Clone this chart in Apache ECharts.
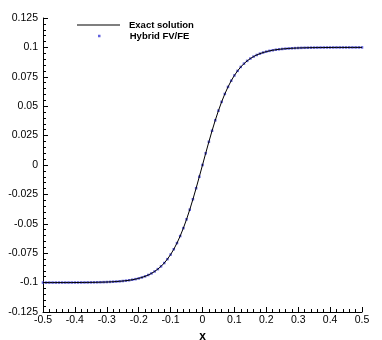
<!DOCTYPE html>
<html>
<head>
<meta charset="utf-8">
<script src="https://cdn.jsdelivr.net/npm/echarts@6/dist/echarts.min.js"></script>
<style>
  html, body { margin: 0; padding: 0; background: #fff; }
  #chart { width: 382px; height: 340px; }
</style>
</head>
<body>
<div id="chart"></div>
<script>
// x positions of the samples
const xValues = [
  -0.50, -0.49, -0.48, -0.47, -0.46, -0.45, -0.44, -0.43, -0.42, -0.41,
  -0.40, -0.39, -0.38, -0.37, -0.36, -0.35, -0.34, -0.33, -0.32, -0.31,
  -0.30, -0.29, -0.28, -0.27, -0.26, -0.25, -0.24, -0.23, -0.22, -0.21,
  -0.20, -0.19, -0.18, -0.17, -0.16, -0.15, -0.14, -0.13, -0.12, -0.11,
  -0.10, -0.09, -0.08, -0.07, -0.06, -0.05, -0.04, -0.03, -0.02, -0.01,
  0.00,
  0.01, 0.02, 0.03, 0.04, 0.05, 0.06, 0.07, 0.08, 0.09, 0.10,
  0.11, 0.12, 0.13, 0.14, 0.15, 0.16, 0.17, 0.18, 0.19, 0.20,
  0.21, 0.22, 0.23, 0.24, 0.25, 0.26, 0.27, 0.28, 0.29, 0.30,
  0.31, 0.32, 0.33, 0.34, 0.35, 0.36, 0.37, 0.38, 0.39, 0.40,
  0.41, 0.42, 0.43, 0.44, 0.45, 0.46, 0.47, 0.48, 0.49, 0.50
]

// exact solution u2 (estimated from the curve)
const exactValues = [
  -0.09999, -0.09999, -0.09998, -0.09998, -0.09998, -0.09997, -0.09997, -0.09996, -0.09996, -0.09995,
  -0.09993, -0.09992, -0.09990, -0.09988, -0.09985, -0.09982, -0.09978, -0.09973, -0.09967, -0.09960,
  -0.09951, -0.09940, -0.09926, -0.09910, -0.09890, -0.09866, -0.09837, -0.09801, -0.09757, -0.09705,
  -0.09640, -0.09562, -0.09468, -0.09354, -0.09217, -0.09051, -0.08854, -0.08617, -0.08337, -0.08005,
  -0.07616, -0.07163, -0.06640, -0.06044, -0.05370, -0.04621, -0.03800, -0.02913, -0.01974, -0.00997,
  0.00000,
  0.00997, 0.01974, 0.02913, 0.03800, 0.04621, 0.05370, 0.06044, 0.06640, 0.07163, 0.07616,
  0.08005, 0.08337, 0.08617, 0.08854, 0.09051, 0.09217, 0.09354, 0.09468, 0.09562, 0.09640,
  0.09705, 0.09757, 0.09801, 0.09837, 0.09866, 0.09890, 0.09910, 0.09926, 0.09940, 0.09951,
  0.09960, 0.09967, 0.09973, 0.09978, 0.09982, 0.09985, 0.09988, 0.09990, 0.09992, 0.09993,
  0.09995, 0.09996, 0.09996, 0.09997, 0.09997, 0.09998, 0.09998, 0.09998, 0.09999, 0.09999
]

// hybrid FV/FE points sit on top of the exact curve
const hybridValues = [
  -0.09999, -0.09999, -0.09998, -0.09998, -0.09998, -0.09997, -0.09997, -0.09996, -0.09996, -0.09995,
  -0.09993, -0.09992, -0.09990, -0.09988, -0.09985, -0.09982, -0.09978, -0.09973, -0.09967, -0.09960,
  -0.09951, -0.09940, -0.09926, -0.09910, -0.09890, -0.09866, -0.09837, -0.09801, -0.09757, -0.09705,
  -0.09640, -0.09562, -0.09468, -0.09354, -0.09217, -0.09051, -0.08854, -0.08617, -0.08337, -0.08005,
  -0.07616, -0.07163, -0.06640, -0.06044, -0.05370, -0.04621, -0.03800, -0.02913, -0.01974, -0.00997,
  0.00000,
  0.00997, 0.01974, 0.02913, 0.03800, 0.04621, 0.05370, 0.06044, 0.06640, 0.07163, 0.07616,
  0.08005, 0.08337, 0.08617, 0.08854, 0.09051, 0.09217, 0.09354, 0.09468, 0.09562, 0.09640,
  0.09705, 0.09757, 0.09801, 0.09837, 0.09866, 0.09890, 0.09910, 0.09926, 0.09940, 0.09951,
  0.09960, 0.09967, 0.09973, 0.09978, 0.09982, 0.09985, 0.09988, 0.09990, 0.09992, 0.09993,
  0.09995, 0.09996, 0.09996, 0.09997, 0.09997, 0.09998, 0.09998, 0.09998, 0.09999, 0.09999
]

const font = 'Liberation Sans, Arial, Helvetica, sans-serif'
const chart = echarts.init(document.getElementById('chart'))

const axisCommon = {
  axisLine: { onZero: false, lineStyle: { color: '#000', width: 1 } },
  axisTick: { inside: true, length: 5, lineStyle: { color: '#000' } },
  minorTick: { show: true, splitNumber: 5, length: 3, lineStyle: { color: '#000' } },
  splitLine: { show: false },
  axisLabel: { color: '#000', fontFamily: font, fontSize: 10.5 }
}

const legendText = { color: '#000', fontFamily: font, fontSize: 9.5, fontWeight: 'bold', padding: [0, 0, 0, 4] }

chart.setOption({
  animation: false,
  backgroundColor: '#fff',
  grid: { left: 43, right: 20, top: 18, bottom: 28, outerBoundsMode: 'none', containLabel: false },
  legend: [
    {
      data: [{ name: 'Exact solution', icon: 'path://M0,0H43V1H0Z', itemStyle: { color: '#000' } }],
      left: 77, top: 20, orient: 'vertical', padding: 0,
      itemWidth: 43, itemHeight: 1, symbolKeepAspect: false,
      textStyle: legendText
    },
    {
      data: [{ name: 'Hybrid FV/FE', icon: 'path://M0,0H1V1H0Z', itemStyle: { color: '#3a3ad6' } }],
      left: 98, top: 31, orient: 'vertical', padding: 0,
      itemWidth: 43, itemHeight: 2.5, symbolKeepAspect: true,
      textStyle: legendText
    }
  ],
  xAxis: {
    ...axisCommon,
    type: 'value', min: -0.5, max: 0.5, interval: 0.1,
    name: 'x', nameLocation: 'middle', nameGap: 13,
    nameTextStyle: { color: '#000', fontFamily: font, fontSize: 12, fontWeight: 'bold' },
    axisLabel: { ...axisCommon.axisLabel, margin: 3 }
  },
  yAxis: {
    ...axisCommon,
    type: 'value', min: -0.125, max: 0.125, interval: 0.025,
    name: 'u{s|2}', nameLocation: 'middle', nameGap: 33, nameRotate: 90,
    nameTextStyle: {
      color: '#000', fontFamily: font, fontSize: 12, fontWeight: 'bold',
      rich: { s: { fontSize: 8, fontWeight: 'bold', fontFamily: font, color: '#000', verticalAlign: 'bottom', padding: [6, 0, 0, 0] } }
    },
    axisLabel: { ...axisCommon.axisLabel, margin: 5 }
  },
  series: [
    {
      name: 'Hybrid FV/FE',
      type: 'scatter',
      symbol: 'rect',
      symbolSize: 2.5,
      itemStyle: { color: '#3a3ad6' },
      data: xValues.map((x, i) => [x, hybridValues[i]]),
      z: 2
    },
    {
      name: 'Exact solution',
      type: 'line',
      symbol: 'none',
      lineStyle: { color: '#000', width: 1 },
      data: xValues.map((x, i) => [x, exactValues[i]]),
      z: 3
    }
  ]
})
</script>
</body>
</html>
